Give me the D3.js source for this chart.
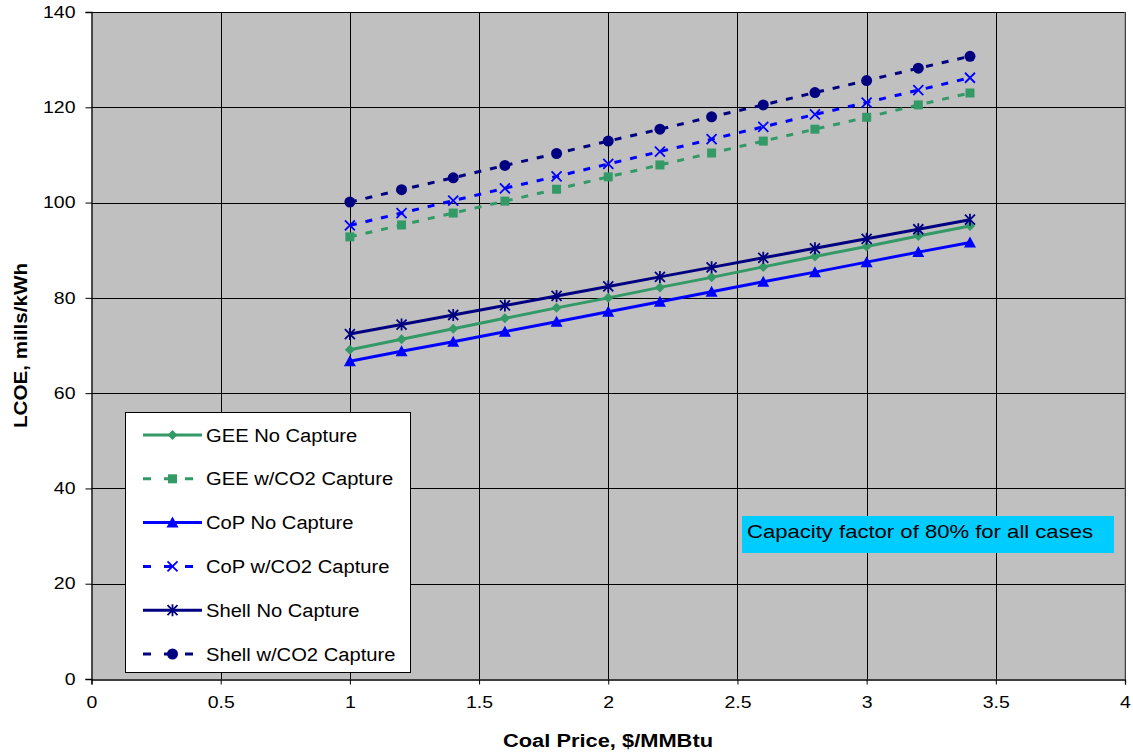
<!DOCTYPE html>
<html><head><meta charset="utf-8">
<script src="https://cdn.jsdelivr.net/npm/d3@7"></script>
<style>
body{margin:0;background:#fff;}
text{font-family:"Liberation Sans",Arial,sans-serif;}
</style></head>
<body><svg id="c" width="1133" height="756"></svg>
<script>
const coalPrice = [1, 1.2, 1.4, 1.6, 1.8, 2, 2.2, 2.4, 2.6, 2.8, 3, 3.2, 3.4];
const geeNoCap   = [69.1, 71.3, 73.5, 75.7, 77.9, 80.0, 82.2, 84.3, 86.5, 88.7, 90.8, 93.0, 95.1];
const geeCap     = [92.8, 95.3, 97.8, 100.3, 102.8, 105.4, 107.9, 110.4, 112.9, 115.4, 117.9, 120.5, 123.0];
const copNoCap   = [66.7, 68.8, 70.8, 72.9, 75.0, 77.1, 79.2, 81.3, 83.4, 85.4, 87.5, 89.6, 91.6];
const copCap     = [95.2, 97.8, 100.4, 103.0, 105.5, 108.1, 110.7, 113.3, 115.9, 118.5, 121.0, 123.6, 126.2];
const shellNoCap = [72.4, 74.4, 76.4, 78.4, 80.4, 82.4, 84.4, 86.4, 88.4, 90.4, 92.4, 94.4, 96.4];
const shellCap   = [100.1, 102.7, 105.2, 107.8, 110.3, 112.9, 115.4, 118.0, 120.5, 123.1, 125.6, 128.2, 130.7];
const seriesNames = ["GEE No Capture","GEE w/CO2 Capture","CoP No Capture","CoP w/CO2 Capture","Shell No Capture","Shell w/CO2 Capture"];
const xTicks = [0, 0.5, 1, 1.5, 2, 2.5, 3, 3.5, 4];
const yTicks = [0, 20, 40, 60, 80, 100, 120, 140];
const xTitle = "Coal Price, $/MMBtu";
const yTitle = "LCOE, mills/kWh";
const note = "Capacity factor of 80% for all cases";

const series = [
  {name: seriesNames[0], vals: geeNoCap,   color: "#339966", dash: null, marker: "diamond"},
  {name: seriesNames[1], vals: geeCap,     color: "#339966", dash: "7,9", marker: "square"},
  {name: seriesNames[2], vals: copNoCap,   color: "#0000FF", dash: null, marker: "triangle"},
  {name: seriesNames[3], vals: copCap,     color: "#0000FF", dash: "7,9", marker: "x"},
  {name: seriesNames[4], vals: shellNoCap, color: "#000080", dash: null, marker: "star"},
  {name: seriesNames[5], vals: shellCap,   color: "#000080", dash: "7,9", marker: "circle"}
];

function stretch(sel, f) {
  sel.each(function() {
    const w = this.getComputedTextLength();
    d3.select(this).attr("textLength", w * f).attr("lengthAdjust", "spacingAndGlyphs");
  });
}

const svg = d3.select("#c");
const L = 91.5, R = 1125, T = 12, B = 679;
const x = d3.scaleLinear().domain([0, 4]).range([L, R]);
const y = d3.scaleLinear().domain([0, 140]).range([B, T]);

svg.append("rect").attr("x", L).attr("y", T).attr("width", R - L).attr("height", B - T).attr("fill", "#C0C0C0");

const g = svg.append("g");
g.selectAll(".vg").data(xTicks.slice(1)).join("line")
  .attr("x1", d => Math.round(x(d)) + 0.5).attr("x2", d => Math.round(x(d)) + 0.5)
  .attr("y1", T).attr("y2", B).attr("stroke", "#000").attr("stroke-width", 1);
g.selectAll(".hg").data(yTicks.slice(1)).join("line")
  .attr("y1", d => Math.round(y(d)) + 0.5).attr("y2", d => Math.round(y(d)) + 0.5)
  .attr("x1", L).attr("x2", R).attr("stroke", "#000").attr("stroke-width", 1);
svg.append("line").attr("x1", R).attr("x2", R).attr("y1", T).attr("y2", B).attr("stroke", "#808080");

const xAxis = svg.append("g").attr("transform", `translate(0,${B + 0.5})`)
  .call(d3.axisBottom(x).tickValues(xTicks).tickFormat(d3.format("")).tickSize(5).tickPadding(12));
const yAxis = svg.append("g").attr("transform", `translate(${L},0)`)
  .call(d3.axisLeft(y).tickValues(yTicks).tickSize(6).tickPadding(10));
[xAxis, yAxis].forEach(a => {
  a.select(".domain").attr("stroke", "#000").attr("stroke-width", 1.3);
  a.selectAll(".tick line").attr("stroke", "#000");
  a.selectAll("text").attr("font-size", 16.5).attr("fill", "#000").attr("font-family", "Liberation Sans, Arial, sans-serif");
  stretch(a.selectAll("text"), 1.18);
});

function drawMarker(sel, type, color, s) {
  if (type === "diamond") {
    sel.append("path").attr("d", `M0,${-s}L${s},0L0,${s}L${-s},0Z`).attr("fill", color);
  } else if (type === "square") {
    sel.append("rect").attr("x", -4.5).attr("y", -4.5).attr("width", 9).attr("height", 9).attr("fill", color);
  } else if (type === "triangle") {
    sel.append("path").attr("d", "M0,-6L6,5L-6,5Z").attr("fill", color);
  } else if (type === "x") {
    sel.append("path").attr("d", "M-5,-5L5,5M5,-5L-5,5").attr("stroke", color).attr("stroke-width", 1.8).attr("fill", "none");
  } else if (type === "star") {
    sel.append("path").attr("d", "M-5,-5L5,5M5,-5L-5,5M0,-6L0,6").attr("stroke", color).attr("stroke-width", 1.8).attr("fill", "none");
  } else if (type === "circle") {
    sel.append("circle").attr("r", 5.5).attr("fill", color);
  }
}

const line = d3.line().x((d, i) => x(coalPrice[i])).y(d => y(d));
series.forEach(s => {
  svg.append("path").attr("d", line(s.vals)).attr("fill", "none")
    .attr("stroke", s.color).attr("stroke-width", 3)
    .attr("stroke-dasharray", s.dash);
  s.vals.forEach((v, i) => {
    const m = svg.append("g").attr("transform", `translate(${x(coalPrice[i])},${y(v)})`);
    drawMarker(m, s.marker, s.color, 5);
  });
});

const lg = svg.append("g");
lg.append("rect").attr("x", 125.5).attr("y", 412.5).attr("width", 285).attr("height", 260)
  .attr("fill", "#fff").attr("stroke", "#000").attr("stroke-width", 1);
series.forEach((s, i) => {
  const yy = 435 + i * 43.8;
  lg.append("line").attr("x1", 143).attr("x2", 202).attr("y1", yy).attr("y2", yy)
    .attr("stroke", s.color).attr("stroke-width", 3).attr("stroke-dasharray", s.dash ? "8,13" : null);
  const m = lg.append("g").attr("transform", `translate(172.5,${yy})`);
  drawMarker(m, s.marker, s.color, 5);
  const t = lg.append("text").attr("x", 206).attr("y", yy + 6.5).attr("font-size", 18).attr("fill", "#000").text(s.name);
  stretch(t, 1.12);
});

svg.append("rect").attr("x", 742).attr("y", 516).attr("width", 372).attr("height", 37).attr("fill", "#00CCFF");
svg.append("text").attr("x", 747).attr("y", 537.5).attr("font-size", 19).attr("fill", "#000")
  .attr("textLength", 346).attr("lengthAdjust", "spacingAndGlyphs").text(note);

svg.append("text").attr("x", 608).attr("y", 747).attr("text-anchor", "middle")
  .attr("font-size", 18).attr("font-weight", "bold")
  .attr("textLength", 210).attr("lengthAdjust", "spacingAndGlyphs").text(xTitle);
svg.append("text").attr("transform", `translate(27,345.5) rotate(-90)`).attr("text-anchor", "middle")
  .attr("font-size", 18).attr("font-weight", "bold")
  .attr("textLength", 165).attr("lengthAdjust", "spacingAndGlyphs").text(yTitle);
</script></body></html>
